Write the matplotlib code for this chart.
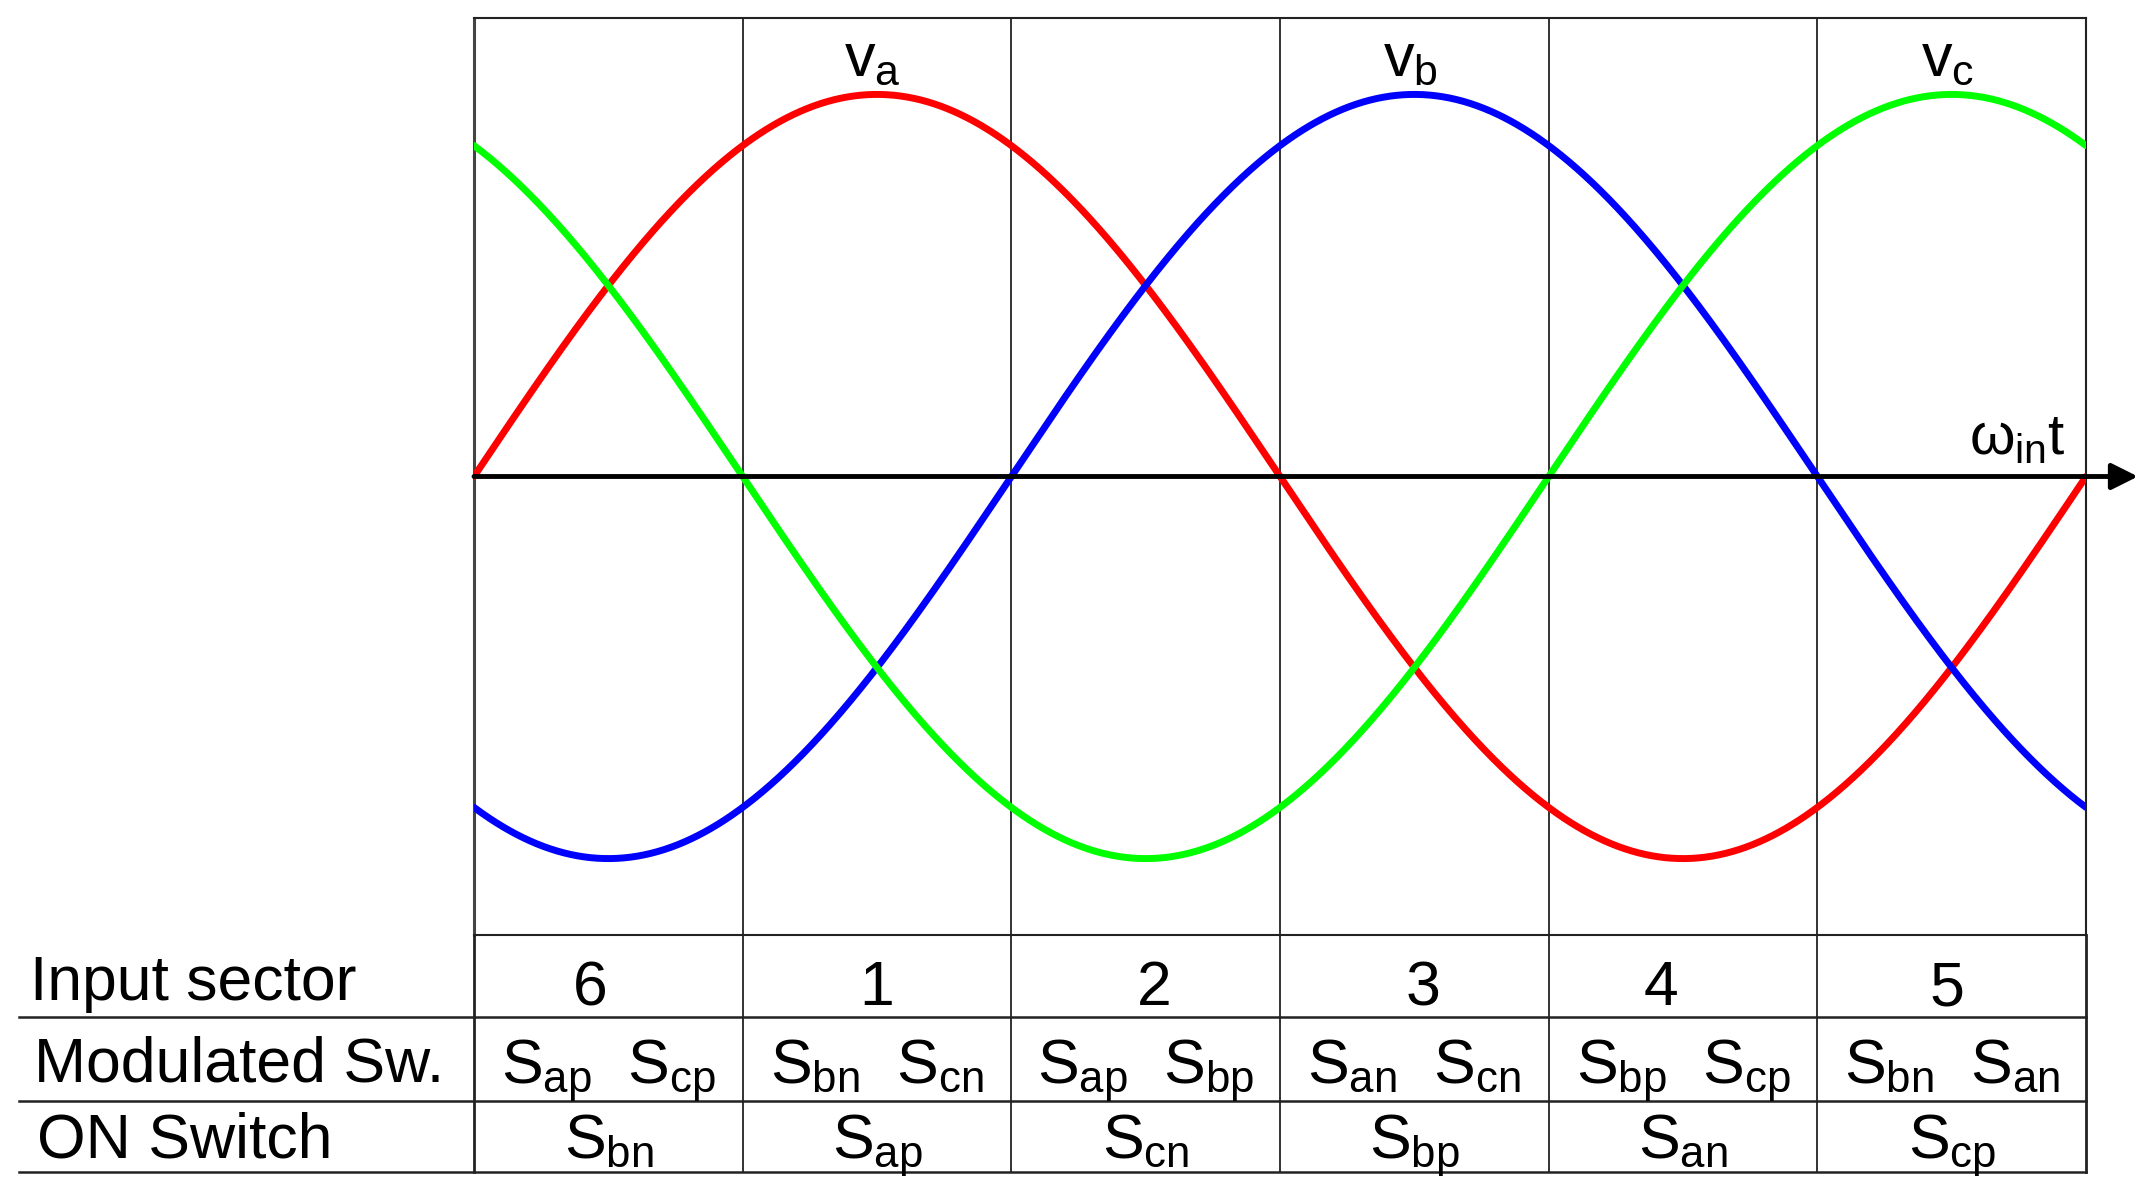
import matplotlib
matplotlib.use('Agg')
import matplotlib.pyplot as plt
import numpy as np
from matplotlib.lines import Line2D
from matplotlib.transforms import blended_transform_factory

plt.rcParams['font.family'] = ['Liberation Sans', 'DejaVu Sans']
plt.rcParams['mathtext.fontset'] = 'custom'
plt.rcParams['mathtext.rm'] = 'Liberation Sans'
plt.rcParams['mathtext.it'] = 'Liberation Sans'
plt.rcParams['mathtext.bf'] = 'Liberation Sans:bold'

# three-phase input voltages (phase shift in degrees)
phase_names = ['a', 'b', 'c']
phase_shift = [0, -120, 120]
phase_colors = ['#ff0000', '#0000ff', '#00ff00']
amplitude = 1.0

# sectors, one every 60 deg starting at wt = 0
sector_edges = [0, 60, 120, 180, 240, 300, 360]
sector_no = ['6', '1', '2', '3', '4', '5']
modulated = [('ap', 'cp'), ('bn', 'cn'), ('ap', 'bp'), ('an', 'cn'), ('bp', 'cp'), ('bn', 'an')]
on_switch = ['bn', 'ap', 'cn', 'bp', 'an', 'cp']
row_labels = ['Input sector', 'Modulated Sw.', 'ON Switch']

W, H = 2155, 1190
fig = plt.figure(figsize=(W / 100, H / 100), dpi=100)
ax = fig.add_axes([474 / W, 1 - 935 / H, (2086 - 474) / W, (935 - 18) / H])

wt = np.linspace(0, 360, 1441)
for ph, col in zip(phase_shift, phase_colors):
    ax.plot(wt, amplitude * np.sin(np.radians(wt + ph)), color=col, lw=5,
            solid_capstyle='round', zorder=3)

for b in sector_edges[1:-1]:
    ax.axvline(b, color='#222222', lw=1.3, zorder=1)

ax.set_xlim(0, 360)
ax.set_ylim(-1.2, 1.2)
ax.set_xticks([])
ax.set_yticks([])
for side, sp in ax.spines.items():
    sp.set_color('#222222')
    sp.set_linewidth(1.5)
ax.spines['left'].set_linewidth(2.2)
ax.spines['left'].set_color('#444444')

# time axis with arrow
ax.annotate('', xy=(371.6, 0), xytext=(0, 0),
            arrowprops=dict(arrowstyle='-|>', mutation_scale=40, lw=3.5, color='black',
                            shrinkA=0, shrinkB=0),
            annotation_clip=False, zorder=4)
ax.text(355.5, 0.058, r'$\omega_{in}t$', ha='right', va='baseline', fontsize=42)

# phase labels above the peaks
for ph, name in zip(phase_shift, phase_names):
    peak = (90 - ph) % 360
    ax.text(peak - 1, 1.05, r'$v_{%s}$' % name, ha='center', va='baseline', fontsize=44)

# table under the plot
def fy(py):
    return 1 - py / H

tr = blended_transform_factory(ax.transData, fig.transFigure)
for py in [1017, 1101, 1172]:
    fig.add_artist(Line2D([19 / W, 2086 / W], [fy(py)] * 2, color='#222222', lw=1.8))
for b in sector_edges:
    fig.add_artist(Line2D([b, b], [fy(935), fy(1172)], transform=tr,
                          color='#222222', lw=1.3 if 0 < b < 360 else 2.0))

label_base = [1000, 1081, 1157]
label_x = [30, 34, 37]
for lab, lx, ly in zip(row_labels, label_x, label_base):
    fig.text(lx / W, fy(ly), lab, ha='left', va='baseline', fontsize=45)

num_shift = [-4, 0, 2, 2, -5, -1]
for i in range(len(sector_no)):
    xc = (sector_edges[i] + sector_edges[i + 1]) / 2
    fig.text(xc + num_shift[i], fy(1005), sector_no[i], transform=tr,
             ha='center', va='baseline', fontsize=45)
    s1, s2 = modulated[i]
    fig.text(xc, fy(1083), r'$S_{%s}$  $S_{%s}$' % (s1, s2), transform=tr,
             ha='center', va='baseline', fontsize=45)
    fig.text(xc, fy(1158), r'$S_{%s}$' % on_switch[i], transform=tr,
             ha='center', va='baseline', fontsize=45)

fig.savefig('out.png', dpi=100, facecolor='white')
